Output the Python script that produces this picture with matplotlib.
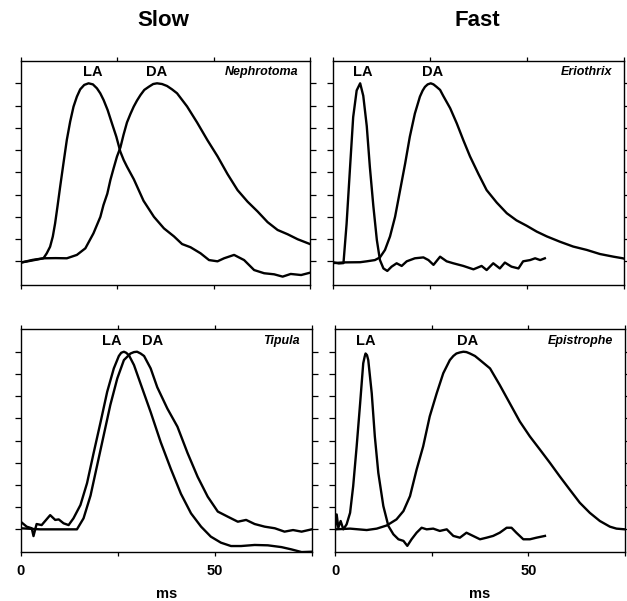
import matplotlib
matplotlib.use("Agg")
import matplotlib.pyplot as plt
import matplotlib.transforms as mtransforms

# ---- data (time in ms, normalised response) ----
# Nephrotoma (slow)
neph_la_t = [0, 3, 5.82, 6.68, 7.55, 8.25, 8.85, 9.46, 10.16, 11.02, 11.89, 12.76, 13.63, 14.5, 15.36, 16.41, 17.53, 18.66,
             19.7, 20.57, 21.44, 22.48, 23.6, 24.74, 25.78, 26.65, 27.5, 29.3, 31.8, 34.5,
             37.1, 39.7, 41.8, 44, 46.6, 48.8, 51, 52.7, 55.3, 57.9, 60.5, 63.1, 65.7, 67.9, 70, 72.7, 75]
neph_la_v = [-0.007, 0.005, 0.017, 0.045, 0.082, 0.139, 0.213, 0.307, 0.419, 0.551, 0.682, 0.785, 0.869, 0.925, 0.966, 0.991, 1.0, 0.994,
             0.972, 0.944, 0.906, 0.85, 0.775, 0.70, 0.616, 0.569, 0.532, 0.46, 0.34, 0.25,
             0.185, 0.14, 0.097, 0.079, 0.045, 0.007, 0.0, 0.017, 0.036, 0.007, -0.049, -0.067, -0.073, -0.086, -0.071, -0.077, -0.064]
neph_da_t = [0, 3, 5.8, 9, 11.9, 14.5, 16.7, 18.8, 20.6, 21.4, 22.4, 23.2, 24, 24.9, 25.8, 26.6, 27.5, 28.4, 29.25, 30.1, 31, 32,
             33.2, 34.3, 35.3, 36.6, 37.9, 39.2, 40.5, 43.1,
             45.7, 48.4, 51, 53.6, 56.2, 58.8, 61.4, 64, 66.6, 69.2, 71.8, 75]
neph_da_v = [-0.007, 0.008, 0.017, 0.018, 0.017, 0.036, 0.073, 0.157, 0.25, 0.316, 0.38, 0.457, 0.52, 0.588, 0.64, 0.71, 0.78, 0.828, 0.869, 0.903, 0.934, 0.963,
             0.981, 0.996, 1.0, 0.996, 0.985, 0.966, 0.944, 0.87,
             0.78, 0.68, 0.59, 0.49, 0.40, 0.335, 0.28, 0.22, 0.176, 0.152, 0.124, 0.097]

# Eriothrix (fast)
erio_la_t = [0, 1.5, 2.7, 3.5, 4.4, 5.2, 6.1, 7.0, 7.8, 8.7, 9.5, 10.4, 11.3, 12.1, 13.0, 14.0, 15.1, 16.4, 17.7, 19.0,
             21.1, 23.3, 24.6, 25.9, 27.6, 29.3, 31.0, 33.6, 36.2, 38.3, 39.6, 41.3, 43.0, 44.3, 46.0, 47.8, 49.0, 50.8, 52.1, 53.4, 54.6]
erio_la_v = [-0.005, -0.012, -0.01, 0.21, 0.53, 0.81, 0.96, 1.0, 0.93, 0.76, 0.53, 0.31, 0.12, 0.007, -0.04, -0.054, -0.03, -0.011, -0.026, 0.0,
             0.017, 0.022, 0.007, -0.02, 0.026, 0.0, -0.011, -0.026, -0.045, -0.026, -0.049, -0.011, -0.04, -0.007, -0.03, -0.04, 0.0, 0.007, 0.017, 0.007, 0.017]
erio_da_t = [0, 3, 7, 8.7, 10.8, 12.1, 13.4, 14.7, 16, 17.3, 18.6, 19.8, 21.1, 22.4, 23.1, 23.7, 24.4, 25.2, 25.9, 26.7, 27.6, 28.4, 30.2, 31.9,
             33.6, 35.3, 37.5, 39.6, 42.2, 44.8, 47.3, 49.9, 52.5, 55.1, 58.5, 61.9, 65.4, 68.8, 72.3, 74.7, 75]
erio_da_v = [-0.01, -0.006, -0.005, 0.0, 0.007, 0.022, 0.064, 0.14, 0.25, 0.40, 0.55, 0.70, 0.83, 0.925, 0.959, 0.98, 0.994, 1.0, 0.994, 0.98, 0.963, 0.93, 0.86, 0.775,
             0.68, 0.59, 0.49, 0.40, 0.33, 0.27, 0.23, 0.20, 0.167, 0.14, 0.11, 0.083, 0.064, 0.041, 0.026, 0.017, 0.015]

# Tipula (slow)
tip_la_t = [0, 1.55, 2.85, 3.3, 4.1, 5.4, 7.6, 8.9, 9.8, 11.05, 12.35, 13.6, 15.4, 17.1, 18.8, 20.55, 22.3, 24.0, 25.3, 25.9, 26.6,
            27.2, 27.9, 29.2, 30.9, 33.5, 36.1, 38.7, 41.3, 43.9, 46.5, 49.0, 51.6, 54.2, 56.8, 60.3, 63.7, 67.2, 69.8, 72.4, 75]
tip_la_v = [0.043, 0.015, 0.006, -0.038, 0.03, 0.024, 0.08, 0.053, 0.056, 0.034, 0.024, 0.062, 0.137, 0.26, 0.43, 0.60, 0.775, 0.906, 0.976, 0.994, 1.0,
            0.994, 0.98, 0.925, 0.82, 0.66, 0.49, 0.34, 0.20, 0.09, 0.015, -0.041, -0.075, -0.094, -0.094, -0.088, -0.09, -0.10, -0.113, -0.128, -0.126]
tip_da_t = [0, 5, 11.9, 14.5, 16.2, 18.0, 19.7, 21.4, 23.1, 24.9, 26.6, 28.3, 29.2, 30.0, 30.9, 31.8, 33.5, 35.2, 37.8, 40.4, 43.0, 45.6,
            48.2, 50.8, 53.4, 55.96, 58.1, 60.3, 62.9, 65.5, 68.0, 70.2, 72.4, 75]
tip_da_v = [0.006, 0.0, 0.0, 0.0, 0.062, 0.19, 0.36, 0.53, 0.70, 0.85, 0.953, 0.99, 0.998, 1.0, 0.99, 0.976, 0.906, 0.80, 0.68, 0.578, 0.43, 0.296,
            0.184, 0.10, 0.071, 0.043, 0.053, 0.03, 0.015, 0.006, -0.013, -0.004, -0.013, 0.0]

# Epistrophe (fast)
epi_la_t = [0, 0.43, 0.86, 1.46, 2.15, 3.0, 3.9, 4.7, 5.6, 6.5, 7.3, 7.67, 7.9, 8.27, 8.6, 9.5, 10.3, 11.2, 12.5, 13.8, 15.1, 16.4,
            17.7, 18.7, 19.8, 21.1, 22.4, 23.7, 25.4, 27.1, 28.9, 30.6, 32.3, 34.0, 35.7, 37.5, 39.2, 40.9, 42.6, 44.4, 45.65,
            46.9, 48.7, 50.4, 52.1, 54.3]
epi_la_v = [0.0, 0.084, 0.009, 0.047, 0.0, 0.028, 0.093, 0.243, 0.467, 0.71, 0.935, 0.972, 0.99, 0.981, 0.953, 0.766, 0.523, 0.318, 0.131, 0.019, -0.028, -0.056,
            -0.065, -0.093, -0.056, -0.019, 0.009, 0.0, 0.004, -0.009, 0.0, -0.037, -0.047, -0.019, -0.037, -0.056, -0.047, -0.037, -0.019, 0.009, 0.009,
            -0.019, -0.056, -0.056, -0.047, -0.037]
epi_da_t = [0, 3.9, 8.2, 10.8, 13.4, 15.9, 17.7, 19.4, 21.1, 22.8, 24.5, 26.3, 28.0, 29.7, 30.6, 31.4, 32.3, 33.2, 34.0, 34.9, 36.2, 37.5, 40.1, 42.6,
            45.2, 47.8, 50.4, 53.0, 55.6, 58.1, 60.7, 63.3, 65.9, 68.5, 71.1, 72.8, 75]
epi_da_v = [0.0, 0.004, -0.004, 0.004, 0.022, 0.056, 0.103, 0.187, 0.336, 0.467, 0.636, 0.766, 0.879, 0.953, 0.976, 0.99, 0.996, 1.0, 0.998, 0.99, 0.976, 0.953, 0.906, 0.813,
            0.71, 0.607, 0.523, 0.449, 0.374, 0.299, 0.224, 0.15, 0.093, 0.047, 0.015, 0.004, 0.0]

column_titles = ["Slow", "Fast"]
species = ["Nephrotoma", "Eriothrix", "Tipula", "Epistrophe"]
la_label_t = [18.6, 7.6, 23.6, 8.0]
da_label_t = [35.3, 25.8, 34.0, 34.2]
xticks = [0, 25, 50, 75]
xtick_labels = ["0", "", "50", ""]
yticks = [0, 0.125, 0.25, 0.375, 0.5, 0.625, 0.75, 0.875, 1.0]
x_unit = "ms"

plt.rcParams['font.family'] = ['Liberation Sans', 'DejaVu Sans']

fig = plt.figure(figsize=(6.27, 6.01), dpi=100)
positions = [
    [0.0335, 0.5258, 0.4609, 0.3732],
    [0.5311, 0.5258, 0.4641, 0.3732],
    [0.0330, 0.0820, 0.4641, 0.3700],
    [0.5343, 0.0820, 0.4625, 0.3700],
]
ylims = [(-0.133, 1.127), (-0.133, 1.127), (-0.126, 1.126), (-0.126, 1.126)]
curves = [
    (neph_la_t, neph_la_v, neph_da_t, neph_da_v),
    (erio_la_t, erio_la_v, erio_da_t, erio_da_v),
    (tip_la_t, tip_la_v, tip_da_t, tip_da_v),
    (epi_la_t, epi_la_v, epi_da_t, epi_da_v),
]

for i in range(4):
    ax = fig.add_axes(positions[i])
    la_t, la_v, da_t, da_v = curves[i]
    ax.plot(la_t, la_v, color='black', lw=1.7, solid_joinstyle='round')
    ax.plot(da_t, da_v, color='black', lw=1.7, solid_joinstyle='round')
    ax.set_xlim(0, 75)
    ax.set_ylim(*ylims[i])
    for s in ax.spines.values():
        s.set_linewidth(1.0)
    ax.set_xticks(xticks)
    ax.set_yticks(yticks)
    ax.tick_params(axis='both', direction='out', width=0.9)
    ax.tick_params(axis='x', length=3, top=True, bottom=True)
    ax.tick_params(axis='y', length=4, left=True, right=True, labelleft=False)
    if i >= 2:
        ax.set_xticklabels(xtick_labels, fontsize=10.5, fontweight='bold')
        ax.tick_params(axis='x', pad=6)
        pos = positions[i]
        fig.text(pos[0] + pos[2] / 2, 1 - 598 / 601, x_unit, ha='center', va='baseline',
                 fontsize=10.5, fontweight='bold')
    else:
        ax.set_xticklabels([])
    label_y = 1.065 if i < 2 else 1.06
    ax.text(la_label_t[i], label_y, "LA", ha='center', va='center', fontsize=10.5, fontweight='bold')
    ax.text(da_label_t[i], label_y, "DA", ha='center', va='center', fontsize=10.5, fontweight='bold')
    trans = mtransforms.blended_transform_factory(ax.transAxes, ax.transData)
    ax.text(0.96, label_y, species[i], transform=trans, ha='right', va='center',
            fontsize=9, fontweight='bold', style='italic')

fig.text(163 / 627, 1 - 20.6 / 601, column_titles[0], ha='center', va='center', fontsize=16, fontweight='bold')
fig.text(477 / 627, 1 - 20.6 / 601, column_titles[1], ha='center', va='center', fontsize=16, fontweight='bold')

fig.savefig("out.png", dpi=100)
